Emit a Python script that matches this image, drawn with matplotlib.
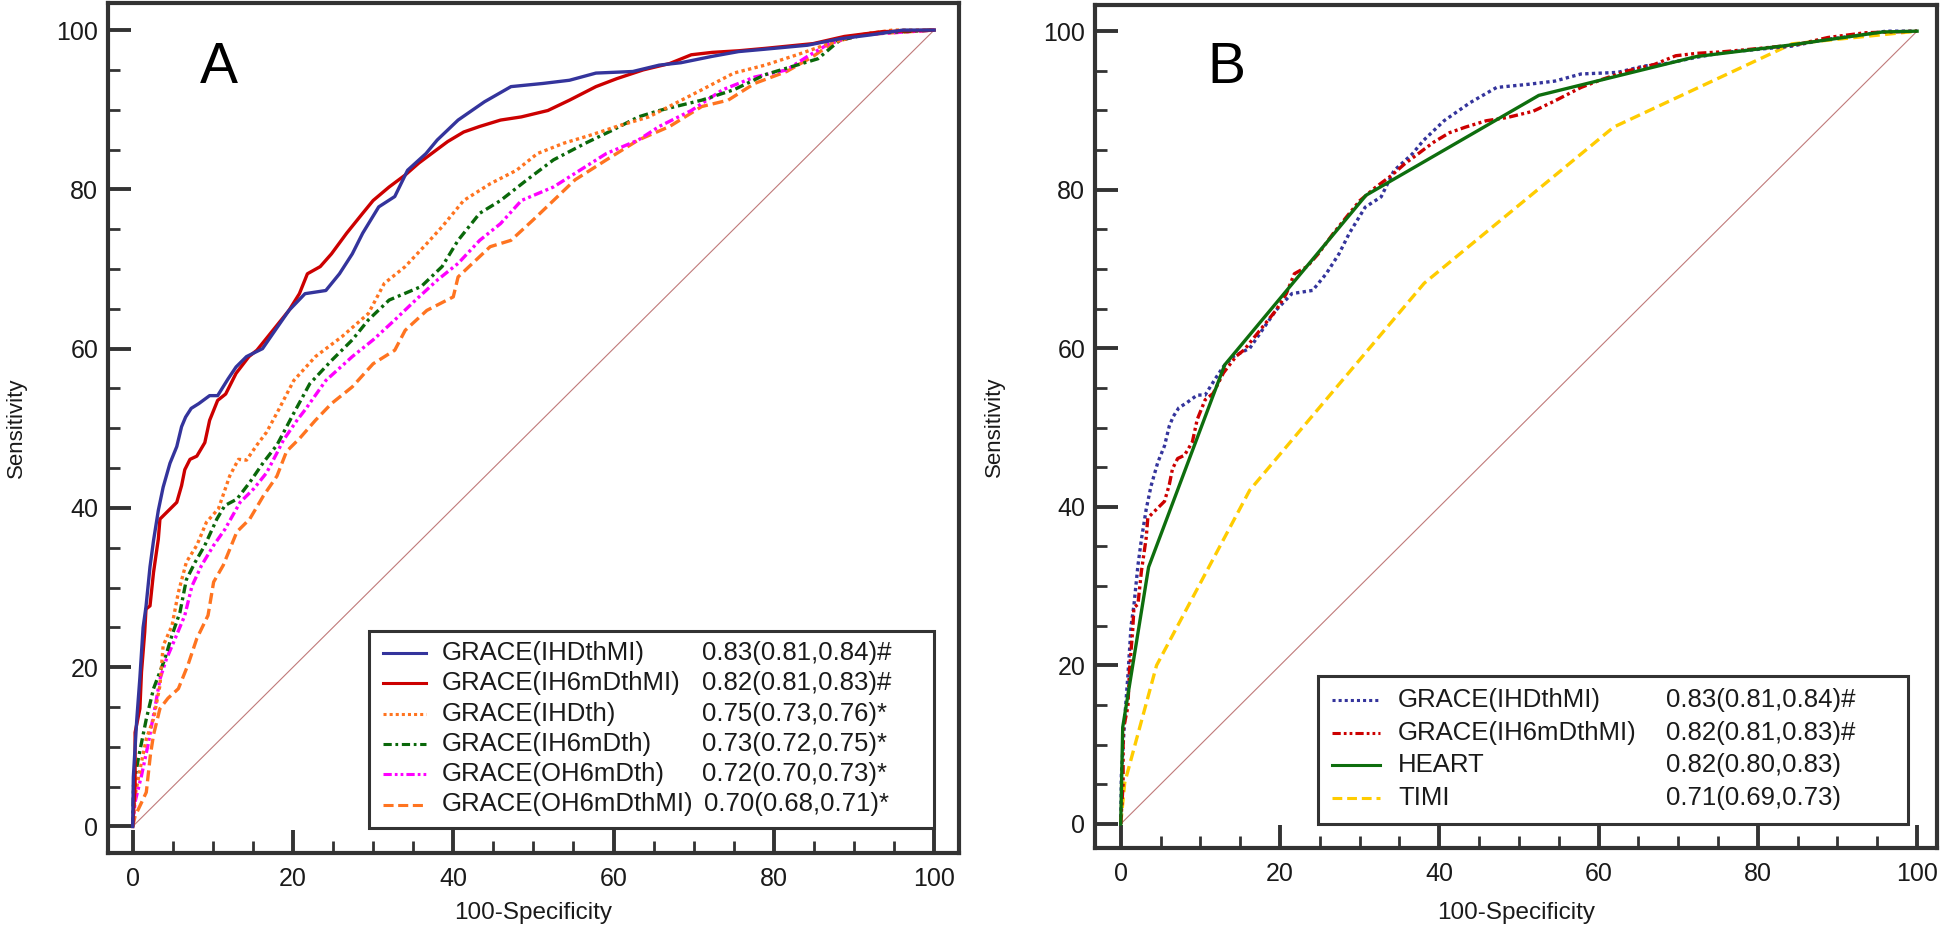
import matplotlib
matplotlib.use('Agg')
import matplotlib.pyplot as plt
from matplotlib.lines import Line2D
from matplotlib.patches import Rectangle
from matplotlib.ticker import MultipleLocator

plt.rcParams['font.family'] = ['Liberation Sans', 'DejaVu Sans']

# ---------------- data ----------------
# GRACE(IHDthMI)
ihdthmi_x = [0, 0.08, 0.5, 0.9, 1.3, 1.66, 2.16, 2.6, 3.2, 3.8, 4.65, 5.5, 6.1, 6.6, 7.3, 8.25, 9.6,
             10.6, 11.9, 12.9, 14.2, 16.2, 17.5, 19.5, 21.5, 24.1, 25.8, 27.4, 28.7, 30.7, 32.7, 34.3,
             36.6, 38.0, 40.6, 43.9, 47.2, 51.2, 54.5, 57.8, 62.4, 65.7, 68.4, 72.3, 75.6, 78.9, 84.2,
             88.2, 92.1, 96.1, 100]
ihdthmi_y = [0, 6.2, 13.3, 18.7, 25.0, 27.6, 32.6, 35.9, 39.7, 42.6, 45.6, 47.7, 50.2, 51.4, 52.5,
             53.1, 54.1, 54.1, 56.2, 57.7, 59.0, 60.0, 61.9, 64.8, 66.9, 67.3, 69.4, 71.9, 74.5, 77.8,
             79.1, 82.4, 84.5, 86.2, 88.7, 91.0, 92.9, 93.3, 93.7, 94.6, 94.8, 95.6, 95.9, 96.7, 97.3,
             97.6, 98.1, 98.9, 99.4, 100, 100]
# GRACE(IH6mDthMI)
ih6mdthmi_x = [0, 0.3, 0.3, 0.9, 1.1, 1.5, 1.66, 2.16, 2.6, 3.2, 3.4, 4.2, 5.5, 6.1, 6.5, 7.15, 8.0,
               9.0, 9.6, 10.6, 11.6, 12.9, 14.5, 15.5, 17.5, 19.5, 20.8, 21.8, 23.4, 24.8, 26.7, 28.7,
               30.0, 32.0, 34.0, 35.7, 37.3, 39.3, 41.3, 43.3, 45.9, 48.5, 51.8, 54.5, 57.8, 60.4,
               63.7, 67.0, 69.7, 72.3, 75.6, 78.9, 84.9, 88.8, 93.5, 100]
ih6mdthmi_y = [0, 5.1, 11.8, 14.8, 19.4, 24.4, 27.3, 27.7, 31.9, 36.1, 38.6, 39.4, 40.7, 42.8, 44.8,
               46.1, 46.5, 48.2, 51.0, 53.5, 54.3, 56.9, 59.0, 59.8, 62.3, 64.8, 66.9, 69.4, 70.3,
               71.9, 74.5, 77.0, 78.6, 80.3, 81.8, 83.3, 84.5, 86.0, 87.2, 87.9, 88.7, 89.1, 89.9,
               91.2, 92.9, 93.9, 95.0, 95.8, 96.9, 97.2, 97.4, 97.7, 98.3, 99.2, 99.8, 100]
# GRACE(IHDth)
ihdth_x = [0, 0.3, 1.1, 1.7, 2.6, 3.4, 3.8, 4.9, 5.7, 6.7, 8.0, 9.2, 10.7, 12.1, 13.2, 14.2, 15.5,
           16.7, 18.2, 20.1, 22.8, 26.1, 29.4, 31.4, 34.0, 36.7, 38.6, 41.3, 44.6, 47.9, 50.5, 53.8,
           57.1, 60.4, 64.4, 67.7, 71.0, 75.0, 78.9, 82.9, 86.9, 90.8, 94.8, 100]
ihdth_y = [0, 3.9, 8.1, 11.0, 13.5, 17.7, 22.7, 25.2, 29.4, 33.2, 35.3, 38.2, 39.9, 44.0, 46.1, 46.0,
           47.9, 49.5, 52.3, 56.0, 59.0, 61.5, 64.4, 68.2, 70.3, 73.2, 75.3, 78.6, 80.7, 82.4, 84.5,
           85.8, 86.8, 87.9, 89.1, 90.8, 92.5, 94.6, 95.6, 96.9, 98.3, 99.4, 100, 100]
# GRACE(IH6mDth)
ih6mdth_x = [0, 0.1, 0.7, 1.7, 2.6, 3.2, 4.0, 4.9, 5.9, 6.7, 7.8, 9.0, 10.5, 11.5, 13.0, 14.6, 16.3,
             18.0, 20.1, 22.1, 24.8, 27.4, 29.4, 32.0, 36.0, 38.6, 40.6, 43.3, 45.9, 49.2, 52.5,
             56.5, 59.8, 63.1, 65.7, 71.0, 75.0, 78.9, 82.2, 85.5, 88.2, 92.1, 100]
ih6mdth_y = [0, 5.1, 8.5, 13.5, 17.3, 18.9, 21.0, 24.0, 26.9, 31.0, 33.2, 35.3, 38.6, 40.3, 41.1,
             43.2, 45.7, 47.9, 51.9, 55.6, 58.5, 61.1, 63.6, 66.1, 67.8, 70.3, 73.6, 77.0, 78.6,
             81.2, 83.7, 85.8, 87.4, 89.1, 89.9, 91.2, 92.5, 94.4, 95.4, 96.4, 98.7, 99.6, 100]
# GRACE(OH6mDth)
oh6mdth_x = [0, 0.3, 1.1, 1.9, 2.9, 3.4, 4.2, 5.3, 6.5, 7.4, 8.6, 10.1, 11.5, 13.4, 15.1, 16.7, 18.0,
             18.8, 20.5, 21.5, 24.1, 27.4, 30.0, 32.7, 35.3, 38.0, 40.6, 43.3, 45.9, 48.5, 52.5,
             55.8, 59.1, 63.1, 65.7, 69.7, 73.6, 77.6, 81.6, 84.2, 86.9, 90.8, 100]
oh6mdth_y = [0, 3.1, 6.4, 10.2, 15.6, 18.5, 21.0, 23.6, 26.5, 30.2, 32.8, 35.3, 37.3, 40.7, 42.4,
             44.4, 46.9, 48.5, 51.0, 52.3, 56.0, 59.0, 61.1, 63.6, 66.1, 68.6, 70.7, 73.6, 75.7,
             78.6, 80.3, 82.4, 84.5, 86.2, 87.9, 89.9, 92.5, 94.1, 95.0, 96.7, 98.3, 99.4, 100]
# GRACE(OH6mDthMI)
oh6mdthmi_x = [0, 0.3, 1.1, 1.7, 2.2, 2.6, 3.4, 4.4, 5.7, 6.9, 8.0, 9.4, 10.1, 11.3, 13.0, 14.6, 16.3,
               18.0, 19.2, 20.8, 22.8, 24.8, 27.4, 30.0, 32.7, 34.0, 36.7, 40.0, 40.6, 44.6, 47.2,
               49.9, 52.5, 55.2, 59.1, 63.1, 67.0, 71.0, 74.3, 77.6, 81.6, 84.9, 87.5, 90.8, 100]
oh6mdthmi_y = [0, 1.3, 3.0, 4.3, 8.9, 11.5, 14.8, 16.1, 17.3, 20.3, 23.6, 26.5, 30.7, 32.8, 37.0,
               38.6, 41.5, 44.0, 47.1, 48.7, 51.0, 53.1, 55.2, 58.1, 59.8, 62.3, 64.8, 66.5, 69.0,
               72.8, 73.6, 76.1, 78.6, 81.2, 83.7, 86.2, 87.9, 90.4, 91.2, 93.3, 94.8, 96.7, 98.5,
               99.4, 100]
# HEART
heart_x = [0, 0.25, 3.5, 13.05, 30.8, 52.5, 72.3, 83.7, 95.7, 100]
heart_y = [0, 12.2, 32.4, 57.9, 79.3, 91.9, 96.8, 98.2, 99.9, 100]
# TIMI
timi_x = [0, 0.5, 4.5, 16.2, 38.1, 61.9, 84.3, 100]
timi_y = [0, 5.2, 20.0, 42.1, 68.2, 87.9, 98.4, 100]

ref_line = [0, 100]

names_a = ['GRACE(IHDthMI)', 'GRACE(IH6mDthMI)', 'GRACE(IHDth)', 'GRACE(IH6mDth)',
           'GRACE(OH6mDth)', 'GRACE(OH6mDthMI)']
aucs_a = ['0.83(0.81,0.84)#', '0.82(0.81,0.83)#', '0.75(0.73,0.76)*', '0.73(0.72,0.75)*',
          '0.72(0.70,0.73)*', '0.70(0.68,0.71)*']
names_b = ['GRACE(IHDthMI)', 'GRACE(IH6mDthMI)', 'HEART', 'TIMI']
aucs_b = ['0.83(0.81,0.84)#', '0.82(0.81,0.83)#', '0.82(0.80,0.83)', '0.71(0.69,0.73)']
ticks = [0, 20, 40, 60, 80, 100]

# ---------------- styles ----------------
BLUE, RED, ORANGE, GREEN, MAGENTA = '#34349c', '#cc0000', '#ff7420', '#0a680a', '#ff00ff'
HGREEN, YELLOW = '#0e6e0e', '#ffcc00'
DOT = (0, (1, 1))
DASHDOT = (0, (2.7, 1.2, 0.9, 1.2))
DASHDOTDOT = (0, (2.7, 1.0, 0.9, 1.0, 0.9, 1.0))
DASH = (0, (3.3, 1.5))
DASH_Y = (0, (3.2, 1.6))

series_a = [
    (ihdthmi_x, ihdthmi_y, BLUE, '-'),
    (ih6mdthmi_x, ih6mdthmi_y, RED, '-'),
    (ihdth_x, ihdth_y, ORANGE, DOT),
    (ih6mdth_x, ih6mdth_y, GREEN, DASHDOT),
    (oh6mdth_x, oh6mdth_y, MAGENTA, DASHDOTDOT),
    (oh6mdthmi_x, oh6mdthmi_y, ORANGE, DASH),
]
series_b = [
    (ihdthmi_x, ihdthmi_y, BLUE, DOT),
    (ih6mdthmi_x, ih6mdthmi_y, RED, DASHDOTDOT),
    (heart_x, heart_y, HGREEN, '-'),
    (timi_x, timi_y, YELLOW, DASH_Y),
]

W, H = 1946, 931
fig = plt.figure(figsize=(W / 100, H / 100), dpi=100)
fig.patch.set_facecolor('white')


def fx(px):
    return px / W


def fy(py):
    return 1 - py / H


SPINE = '#333333'
LW = 2.4

axA = fig.add_axes([fx(108), fy(853), (959 - 108) / W, (853 - 3) / H])
axB = fig.add_axes([fx(1095), fy(848), (1937 - 1095) / W, (848 - 5) / H])


def style_axes(ax, xlim, ylim):
    ax.set_xlim(*xlim)
    ax.set_ylim(*ylim)
    ax.set_xticks(ticks)
    ax.set_yticks(ticks)
    ax.xaxis.set_minor_locator(MultipleLocator(5))
    ax.yaxis.set_minor_locator(MultipleLocator(5))
    for sp in ax.spines.values():
        sp.set_color(SPINE)
        sp.set_linewidth(3.0)
    ax.tick_params(which='major', direction='in', length=16.5, width=2.8, color=SPINE,
                   labelsize=18, labelcolor='#1a1a1a', top=False, right=False)
    ax.tick_params(which='minor', direction='in', length=8.5, width=2.0, color=SPINE,
                   top=False, right=False)
    ax.tick_params(axis='x', which='major', pad=10)
    ax.tick_params(axis='y', which='major', pad=7)


style_axes(axA, (-3.08, 103.1), (-3.33, 103.4))
style_axes(axB, (-3.23, 102.5), (-3.03, 103.3))

for ax in (axA, axB):
    ax.plot(ref_line, ref_line, color='#c07a7a', lw=0.8, zorder=1)

for i, (x, y, c, ls) in enumerate(reversed(series_a)):
    axA.plot(x, y, color=c, linestyle=ls, lw=LW, zorder=2 + i)

order_b = [3, 0, 1, 2]
for k, idx in enumerate(order_b):
    x, y, c, ls = series_b[idx]
    axB.plot(x, y, color=c, linestyle=ls, lw=LW, zorder=2 + k)

# labels
for ax, lab_x, xl_y in ((axA, -0.108, -0.0576), (axB, -0.119, -0.064)):
    ax.set_xlabel('100-Specificity', fontsize=17.5, color='#1a1a1a', va='top')
    ax.xaxis.set_label_coords(0.5, xl_y)
    ax.set_ylabel('Sensitivity', fontsize=16, color='#1a1a1a', va='center')
    ax.yaxis.set_label_coords(lab_x, 0.5)

axA.text(0.108, 0.906, 'A', transform=axA.transAxes, fontsize=41, ha='left', va='baseline')
axB.text(0.134, 0.907, 'B', transform=axB.transAxes, fontsize=41, ha='left', va='baseline')

# ---------------- legends (table style) ----------------
renderer = fig.canvas.get_renderer()


def draw_legend(box, row0, dy, line_x, text_x, auc_x, names, aucs, series):
    left, top, right, bottom = box
    fig.patches.append(Rectangle((fx(left), fy(bottom)), (right - left) / W, (bottom - top) / H,
                                 transform=fig.transFigure, facecolor='white',
                                 edgecolor=SPINE, linewidth=2.2, zorder=20))
    for i, (name, auc, s) in enumerate(zip(names, aucs, series)):
        yy = row0 + i * dy
        _, _, c, ls = s
        fig.lines.append(Line2D([fx(line_x[0]), fx(line_x[1])], [fy(yy), fy(yy)],
                                transform=fig.transFigure, color=c, linestyle=ls,
                                lw=2.2, zorder=21))
        t = fig.text(fx(text_x), fy(yy), name, fontsize=18.5, color='#1a1a1a',
                     ha='left', va='center', zorder=21)
        bb = t.get_window_extent(renderer)
        ax_px = max(auc_x, bb.x1 + 10)
        fig.text(fx(ax_px), fy(yy), auc, fontsize=18.5, color='#1a1a1a',
                 ha='left', va='center', zorder=21)


draw_legend((369, 631, 934, 828), 653, 30.3, (383, 426), 442, 702, names_a, aucs_a, series_a)
draw_legend((1318, 676, 1908, 824), 700, 32.6, (1332, 1380), 1398, 1666, names_b, aucs_b, series_b)

fig.savefig('out.png', dpi=100, facecolor='white')
